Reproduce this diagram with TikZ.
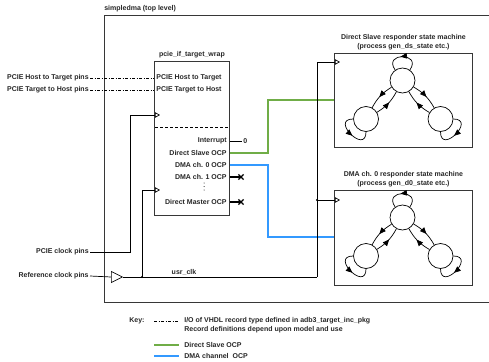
\documentclass[tikz,border=0pt]{standalone}
\usepackage{fontspec}
\setmainfont{Liberation Sans}
\usepackage{tikz}
\usetikzlibrary{arrows.meta, positioning, calc, shapes.geometric, shapes.misc, decorations.markings}
\definecolor{dsgreen}{RGB}{112,173,71}
\definecolor{dmablue}{RGB}{51,153,255}
\definecolor{boxgray}{RGB}{55,55,55}

\tikzset{
  lbl/.style={font=\fontsize{7}{9}\selectfont\bfseries, text=black!85, inner sep=1pt},
  blk/.style={draw=boxgray, line width=0.9pt},
  recio/.style={line width=0.8pt, dash pattern=on 3pt off 1.5pt on 1pt off 1.5pt},
  clkin/.style={-{Triangle[open, length=5pt, width=5.5pt]}},
  ocpds/.style={dsgreen, line width=1.3pt},
  ocpdma/.style={dmablue, line width=1.3pt},
  state/.style={circle, draw, line width=0.7pt, minimum size=25pt, inner sep=0pt},
  midarrow/.style={line width=0.7pt, postaction={decorate},
    decoration={markings, mark=at position 0.55 with {\arrow{Triangle[length=6.5pt, width=5.5pt]}}}},
  nc/.style={cross out, draw, line width=1.2pt, minimum size=4pt, inner sep=0pt},
}

\begin{document}
\begin{tikzpicture}[x=1pt, y=1pt, line width=0.7pt]
  \useasboundingbox (0,0) rectangle (489,-361);

  % top level
  \draw[boxgray, line width=0.9pt] (489,-15) -- (104,-15) -- (104,-302) -- (489,-302);
  \node[lbl, anchor=south west] (toplevel) at (103,-13) {simpledma (top level)};

  % wrapper
  \node[blk, minimum width=75pt, minimum height=154pt, anchor=north west] (wrap) at (154,-61) {};
  \node[lbl, above=2pt of wrap] (wraptitle) {pcie\_if\_target\_wrap};

  \node[lbl, anchor=east] (h2tpin) at (90,-78) {PCIE Host to Target pins};
  \node[lbl, anchor=west] (h2t) at (155,-78) {PCIE Host to Target};
  \node[lbl, anchor=east] (t2hpin) at (90,-90) {PCIE Target to Host pins};
  \node[lbl, anchor=west] (t2h) at (155,-90) {PCIE Target to Host};
  \draw[recio] (h2tpin.east) -- (wrap.west |- h2t);
  \draw[recio] (t2hpin.east) -- (wrap.west |- t2h);

  \draw[densely dashed, line width=0.6pt] ([shift={(1,-66)}]wrap.north west) -- ([shift={(-1,-66)}]wrap.north east);

  \node[lbl, anchor=east] (irq) at (228,-141) {Interrupt};
  \node[lbl, anchor=west] (irq0) at (242,-141) {0};
  \draw (wrap.east |- irq) -- (irq0.west);
  \node[lbl, anchor=east] (dsocp) at (228,-153) {Direct Slave OCP};
  \node[lbl, anchor=east] (d0ocp) at (228,-165) {DMA ch. 0 OCP};
  \node[lbl, anchor=east] (d1ocp) at (228,-177) {DMA ch. 1 OCP};
  \node[nc] (d1nc) at (241,-177) {};
  \draw[line width=1.2pt] (wrap.east |- d1ocp) -- (d1nc.center);
  \foreach \y in {-183,-186.5,-190} \fill (204,\y) circle (0.5pt);
  \node[lbl, anchor=east] (dmocp) at (228,-202) {Direct Master OCP};
  \node[nc] (dmnc) at (241,-202) {};
  \draw[line width=1.2pt] (wrap.east |- dmocp) -- (dmnc.center);

  % responder boxes
  \node[blk, minimum width=138pt, minimum height=94pt, anchor=north west] (dsbox) at (334,-53) {};
  \node[lbl, above=2pt of dsbox, align=center] (dstitle) {Direct Slave responder state machine\\(process gen\_ds\_state etc.)};
  \node[blk, minimum width=138pt, minimum height=95pt, anchor=north west] (dmabox) at (334,-190) {};
  \node[lbl, above=2pt of dmabox, align=center] (dmatitle) {DMA ch. 0 responder state machine\\(process gen\_d0\_state etc.)};

  \foreach \m in {dsbox, dmabox} {
    \node[state] (\m t) at ($(\m.north west)+(68.5,-27.5)$) {};
    \node[state] (\m l) at ($(\m.north west)+(32,-66)$) {};
    \node[state] (\m r) at ($(\m.north west)+(106.5,-66)$) {};
    \draw[midarrow] (\m t) to[bend right=15] (\m l);
    \draw[midarrow] (\m l) to[bend right=15] (\m t);
    \draw[midarrow] (\m t) to[bend left=15] (\m r);
    \draw[midarrow] (\m r) to[bend left=15] (\m t);
    \draw[midarrow] (\m t) to[out=55, in=125, looseness=3.8] (\m t);
    \draw[midarrow] (\m l) to[out=180, in=270, looseness=3.3] (\m l);
    \draw[midarrow] (\m r) to[out=0, in=270, looseness=3.3] (\m r);
  }

  % OCP links
  \draw[ocpds] (wrap.east |- dsocp) -- ++(38,0) |- (dsbox.west |- 0,-100);
  \draw[ocpdma] (wrap.east |- d0ocp) -- ++(38,0) |- (dmabox.west |- 0,-237);

  % clocks
  \node[lbl, anchor=east] (pcieclk) at (90,-252) {PCIE clock pins};
  \coordinate (wclk1) at (160,-115);
  \draw[clkin] (pcieclk.east) -| (130,-115) -- (wclk1);

  \node[lbl, anchor=east] (refclk) at (90,-276) {Reference clock pins};
  \node[isosceles triangle, isosceles triangle stretches, draw, line width=0.7pt,
        minimum width=11pt, minimum height=11pt, inner sep=0pt, anchor=west] (refbuf) at (111,-277) {};
  \draw (refclk.east) -- (refbuf.west);
  \coordinate (clksplit) at (317,-277);
  \draw (refbuf.east) -- (clksplit);
  \node[lbl, above] (usrclk) at (184,-277) {usr\_clk};

  \coordinate (wraptap) at (142,-277);
  \coordinate (wclk2) at (160,-190);
  \draw[clkin] (wraptap) |- (wclk2);
  \fill (wraptap) circle (1.1pt);

  \coordinate (dsclk) at (340,-62);
  \coordinate (dmaclk) at (340,-200);
  \coordinate (dmatap) at (317,-200);
  \draw[clkin] (clksplit) |- (dsclk);
  \draw[clkin] (dmatap) -- (dmaclk);
  \fill (dmatap) circle (1.1pt);

  % key
  \node[lbl, anchor=west] (key) at (128,-321) {Key:};
  \node[lbl, anchor=north west, align=left] (keyio) at (183,-316) {I/O of VHDL record type defined in adb3\_target\_inc\_pkg\\Record definitions depend upon model and use};
  \draw[recio] (keyio.west |- key) ++(-29,0) -- ++(25,0);
  \node[lbl, anchor=west] (keyds) at (183,-345) {Direct Slave OCP};
  \draw[ocpds] (keyds.west) ++(-29,0) -- ++(25,0);
  \node[lbl, anchor=west] (keydma) at (183,-356) {DMA channel\ \ OCP};
  \draw[ocpdma] (keydma.west) ++(-29,0) -- ++(25,0);
\end{tikzpicture}
\end{document}
